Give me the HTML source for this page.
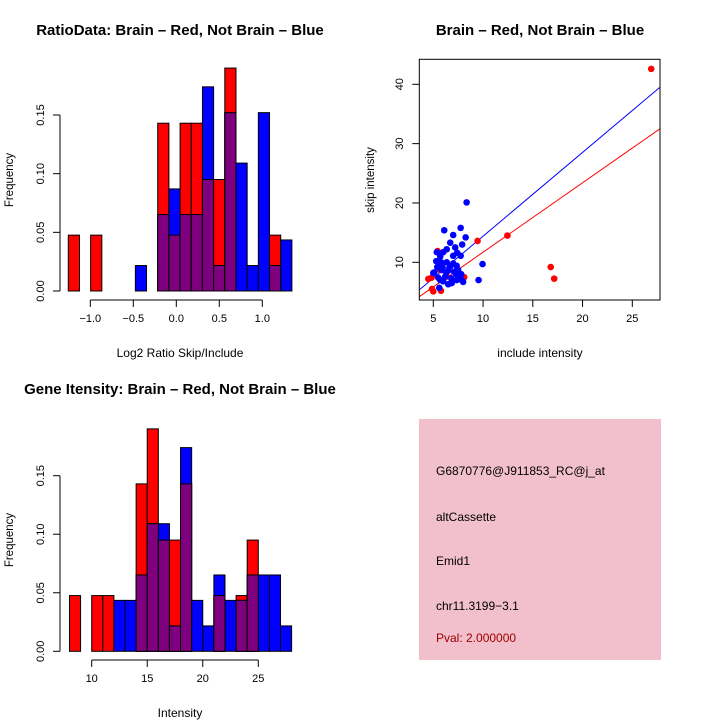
<!DOCTYPE html>
<html><head><meta charset="utf-8"><style>
body{margin:0;background:#fff}
svg text{font-family:"Liberation Sans",sans-serif}
</style></head><body>
<svg id="s" width="720" height="720" xmlns="http://www.w3.org/2000/svg">
<rect width="720" height="720" fill="#fff"/>
<text x="180" y="35" font-size="15" font-weight="bold" text-anchor="middle">RatioData: Brain – Red, Not Brain – Blue</text>
<text x="540" y="35" font-size="15" font-weight="bold" text-anchor="middle">Brain – Red, Not Brain – Blue</text>
<text x="180" y="394" font-size="15" font-weight="bold" text-anchor="middle">Gene Itensity: Brain – Red, Not Brain – Blue</text>
<text x="180" y="357" font-size="12" text-anchor="middle">Log2 Ratio Skip/Include</text>
<text x="13" y="180" font-size="11.5" text-anchor="middle" transform="rotate(-90 13 180)">Frequency</text>
<text x="180" y="717" font-size="12" text-anchor="middle">Intensity</text>
<text x="13" y="540" font-size="11.5" text-anchor="middle" transform="rotate(-90 13 540)">Frequency</text>
<text x="540" y="357" font-size="12" text-anchor="middle">include intensity</text>
<text x="374" y="180" font-size="11.5" text-anchor="middle" transform="rotate(-90 374 180)">skip intensity</text>
<g>
<rect x="419" y="419" width="242" height="241" fill="#f2bfcc"/>
<text x="436" y="475" font-size="12">G6870776@J911853_RC@j_at</text>
<text x="436" y="521" font-size="12">altCassette</text>
<text x="436" y="565" font-size="12">Emid1</text>
<text x="436" y="610" font-size="12">chr11.3199−3.1</text>
<text x="436" y="642" font-size="12" fill="#a00000">Pval: 2.000000</text>
</g>
</svg>
<script>
// Ratio histogram
const ratioStart = -1.256, ratioWidth = 0.13;
const ratioRed  = [0.0476,0,0.0476,0,0,0,0,0,0.143,0.0476,0.143,0.143,0.095,0.095,0.19,0,0,0,0.0476,0];
const ratioBlue = [0,0,0,0,0,0,0.0217,0,0.0652,0.087,0.0652,0.0652,0.174,0.0217,0.152,0.109,0.0217,0.152,0.0217,0.0435];
const ratioXTicks = [-1.0,-0.5,0.0,0.5,1.0];
const ratioXLabels = ["−1.0","−0.5","0.0","0.5","1.0"];
const ratioYTicks = [0,0.05,0.10,0.15];
const ratioYLabels = ["0.00","0.05","0.10","0.15"];
// Intensity histogram
const intStart = 8, intWidth = 1;
const intRed  = [0.0476,0,0.0476,0.0476,0,0,0.143,0.19,0.095,0.095,0.143,0,0,0.0476,0,0.0476,0.095,0,0,0];
const intBlue = [0,0,0,0,0.0435,0.0435,0.0652,0.109,0.109,0.0217,0.174,0.0435,0.0217,0.0652,0.0435,0.0435,0.0652,0.0652,0.0652,0.0217];
const intXTicks = [10,15,20,25];
const intYTicks = [0,0.05,0.10,0.15];
const intYLabels = ["0.00","0.05","0.10","0.15"];
// Scatter
const redX = [26.9,12.45,9.45,16.8,17.15,4.5,4.83,4.87,5.0,5.77,5.43,8.1,6.85,6.35,5.7,6.75];
const redY = [42.6,14.5,13.6,9.2,7.25,7.2,7.4,5.5,5.1,5.2,11.9,7.5,6.75,7.6,8.7,6.5];
const blueX = [8.35,7.75,6.1,7.0,8.25,7.9,6.7,6.35,7.2,5.35,6.0,7.4,7.75,7.0,5.7,5.3,5.8,6.35,9.95,6.7,7.35,5.1,5.85,6.5,7.1,7.8,5.5,6.2,6.8,7.35,7.85,9.55,5.6,6.5,6.0,7.3,5.4,7.7,6.85,6.3,5.7,8.0,7.5,5.9,5.0,7.0];
const blueY = [20.1,15.8,15.4,14.6,14.2,13.0,13.3,12.2,12.5,11.7,11.7,11.6,11.1,11.1,11.0,10.2,10.0,10.0,9.7,9.3,9.4,8.3,8.7,8.6,8.4,8.0,7.4,7.6,7.3,7.0,7.0,7.0,5.7,6.3,6.8,8.0,9.2,7.6,6.5,8.3,7.0,6.7,8.7,9.3,8.2,9.8];
const blueFit = [0.28,1.412];
const redFit = [0.0,1.17];
const scXTicks = [5,10,15,20,25];
const scYTicks = [10,20,30,40];

const S = document.getElementById('s');
const NS = 'http://www.w3.org/2000/svg';
function mk(tag, attrs, parent){const e=document.createElementNS(NS,tag);for(const k in attrs)e.setAttribute(k,attrs[k]);(parent||S).appendChild(e);return e;}
function lin(d0,d1,r0,r1){return v=>r0+(v-d0)*(r1-r0)/(d1-d0);}

function hist(name, start, width, red, blue, xs, ys, xT, xL, yT, yL, xAxisY, base){
  const g = mk('g',{});
  
  
  for(let i=0;i<red.length;i++){
    const x0=xs(start+i*width), x1=xs(start+(i+1)*width);
    const r=red[i], b=blue[i], m=Math.min(r,b);
    if(r>0){const e=mk('rect',{x:x0,y:ys(r),width:x1-x0,height:ys(0)-ys(r),fill:'#ff0000',stroke:'#000','stroke-width':1},g);
      
      }
    if(b>0){const e=mk('rect',{x:x0,y:ys(b),width:x1-x0,height:ys(0)-ys(b),fill:'#0000ff',stroke:'#000','stroke-width':1},g);
      
      }
    if(m>0){const e=mk('rect',{x:x0,y:ys(m),width:x1-x0,height:ys(0)-ys(m),fill:'#7f007f',stroke:'#000','stroke-width':1},g);
      
      }
  }
  const ax = mk('g',{stroke:'#000','stroke-width':1,fill:'none'},g);
  
  
  mk('line',{x1:xs(xT[0]),x2:xs(xT[xT.length-1]),y1:xAxisY,y2:xAxisY},ax);
  xT.forEach((t,i)=>{mk('line',{x1:xs(t),x2:xs(t),y1:xAxisY,y2:xAxisY+7},ax);
    const tx=mk('text',{x:xs(t),y:xAxisY+22,'font-size':11,'text-anchor':'middle',fill:'#000',stroke:'none'},g);tx.textContent=xL[i];
    
    });
  mk('line',{x1:60,x2:60,y1:ys(yT[0]),y2:ys(yT[yT.length-1])},ax);
  yT.forEach((t,i)=>{mk('line',{x1:53,x2:60,y1:ys(t),y2:ys(t)},ax);
    const tx=mk('text',{x:44,y:ys(t),'font-size':11,'text-anchor':'middle',fill:'#000',stroke:'none',transform:`rotate(-90 44 ${ys(t)})`},g);tx.textContent=yL[i];
    
    });
}
hist('ratio-histogram', ratioStart, ratioWidth, ratioRed, ratioBlue,
  lin(0,1,176.3,262.3), lin(0,0.15,291,115), ratioXTicks, ratioXLabels, ratioYTicks, ratioYLabels, 300, 291);
hist('intensity-histogram', intStart, intWidth, intRed, intBlue,
  lin(10,25,91.7,258.3), lin(0,0.15,651.3,475.7), intXTicks, intXTicks.map(String), intYTicks, intYLabels, 660, 651);

// scatter
(function(){
  const xs=lin(5,25,433.3,632.3), ys=lin(10,40,262.3,84.3);
  const xmin=3.59, xmax=27.78;
  const g=mk('g',{});
  
  
  const cp=mk('clipPath',{id:'cp'},g); mk('rect',{x:419.3,y:59.3,width:240.7,height:240.7},cp);
  const bl=mk('line',{x1:xs(xmin),y1:ys(blueFit[0]+blueFit[1]*xmin),x2:xs(xmax),y2:ys(blueFit[0]+blueFit[1]*xmax),stroke:'#0000ff','stroke-width':1,'clip-path':'url(#cp)'},g);
  
  
  const rl=mk('line',{x1:xs(xmin),y1:ys(redFit[0]+redFit[1]*xmin),x2:xs(xmax),y2:ys(redFit[0]+redFit[1]*xmax),stroke:'#ff0000','stroke-width':1,'clip-path':'url(#cp)'},g);
  
  
  redX.forEach((x,i)=>{const c=mk('circle',{cx:xs(x),cy:ys(redY[i]),r:3.3,fill:'#ff0000'},g);
    
    });
  blueX.forEach((x,i)=>{const c=mk('circle',{cx:xs(x),cy:ys(blueY[i]),r:3.3,fill:'#0000ff'},g);
    
    });
  const box=mk('rect',{x:419.3,y:59.3,width:240.7,height:240.7,fill:'none',stroke:'#000','stroke-width':1},g);
  
  
  scXTicks.forEach(t=>{mk('line',{x1:xs(t),x2:xs(t),y1:300,y2:307,stroke:'#000'},g);
    const tx=mk('text',{x:xs(t),y:322,'font-size':11,'text-anchor':'middle'},g);tx.textContent=t;
    
    });
  scYTicks.forEach(t=>{mk('line',{x1:412.3,x2:419.3,y1:ys(t),y2:ys(t),stroke:'#000'},g);
    const tx=mk('text',{x:403,y:ys(t),'font-size':11,'text-anchor':'middle',transform:`rotate(-90 403 ${ys(t)})`},g);tx.textContent=t;
    
    });
})();
</script>
</body></html>
